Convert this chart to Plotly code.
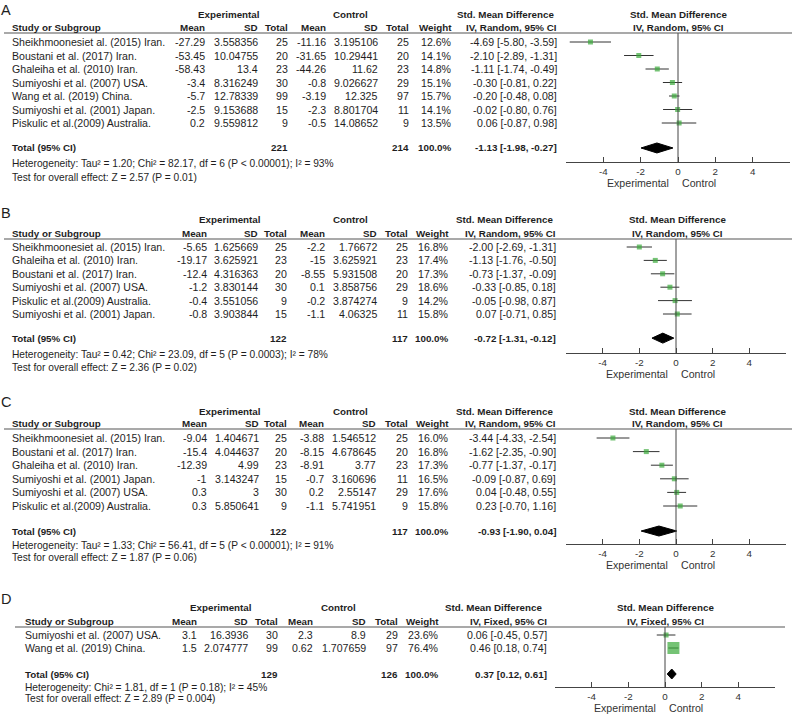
import plotly.graph_objects as go

W, H = 800, 715
FONT = "Liberation Sans, Arial, sans-serif"
TXT = "#1e1e1e"
LINE = "#444444"
GREEN = "#3aa93a"
REG = 10.6
BLD = 9.8
FOOT = 10.2

# ---------------- data ----------------
A_studies = ["Sheikhmoonesiet al. (2015) Iran.", "Boustani et al. (2017) Iran.", "Ghaleiha et al. (2010) Iran.",
             "Sumiyoshi et al. (2007) USA.", "Wang et al. (2019) China.", "Sumiyoshi et al. (2001) Japan.",
             "Piskulic et al.(2009) Australia."]
A_exp_mean = ["-27.29", "-53.45", "-58.43", "-3.4", "-5.7", "-2.5", "0.2"]
A_exp_sd = ["3.558356", "10.04755", "13.4", "8.316249", "12.78339", "9.153688", "9.559812"]
A_exp_n = [25, 20, 23, 30, 99, 15, 9]
A_ctl_mean = ["-11.16", "-31.65", "-44.26", "-0.8", "-3.19", "-2.3", "-0.5"]
A_ctl_sd = ["3.195106", "10.29441", "11.62", "9.026627", "12.325", "8.801704", "14.08652"]
A_ctl_n = [25, 20, 23, 29, 97, 11, 9]
A_weight = [12.6, 14.1, 14.8, 15.1, 15.7, 14.1, 13.5]
A_smd = [-4.69, -2.10, -1.11, -0.30, -0.20, -0.02, 0.06]
A_lo = [-5.80, -2.89, -1.74, -0.81, -0.48, -0.80, -0.87]
A_hi = [-3.59, -1.31, -0.49, 0.22, 0.08, 0.76, 0.98]
A_total = (-1.13, -1.98, -0.27)
A_het = "Heterogeneity: Tau² = 1.20; Chi² = 82.17, df = 6 (P < 0.00001); I² = 93%"
A_test = "Test for overall effect: Z = 2.57 (P = 0.01)"

B_studies = ["Sheikhmoonesiet al. (2015) Iran.", "Ghaleiha et al. (2010) Iran.", "Boustani et al. (2017) Iran.",
             "Sumiyoshi et al. (2007) USA.", "Piskulic et al.(2009) Australia.", "Sumiyoshi et al. (2001) Japan."]
B_exp_mean = ["-5.65", "-19.17", "-12.4", "-1.2", "-0.4", "-0.8"]
B_exp_sd = ["1.625669", "3.625921", "4.316363", "3.830144", "3.551056", "3.903844"]
B_exp_n = [25, 23, 20, 30, 9, 15]
B_ctl_mean = ["-2.2", "-15", "-8.55", "0.1", "-0.2", "-1.1"]
B_ctl_sd = ["1.76672", "3.625921", "5.931508", "3.858756", "3.874274", "4.06325"]
B_ctl_n = [25, 23, 20, 29, 9, 11]
B_weight = [16.8, 17.4, 17.3, 18.6, 14.2, 15.8]
B_smd = [-2.00, -1.13, -0.73, -0.33, -0.05, 0.07]
B_lo = [-2.69, -1.76, -1.37, -0.85, -0.98, -0.71]
B_hi = [-1.31, -0.50, -0.09, 0.18, 0.87, 0.85]
B_total = (-0.72, -1.31, -0.12)
B_het = "Heterogeneity: Tau² = 0.42; Chi² = 23.09, df = 5 (P = 0.0003); I² = 78%"
B_test = "Test for overall effect: Z = 2.36 (P = 0.02)"

C_studies = ["Sheikhmoonesiet al. (2015) Iran.", "Boustani et al. (2017) Iran.", "Ghaleiha et al. (2010) Iran.",
             "Sumiyoshi et al. (2001) Japan.", "Sumiyoshi et al. (2007) USA.", "Piskulic et al.(2009) Australia."]
C_exp_mean = ["-9.04", "-15.4", "-12.39", "-1", "0.3", "0.3"]
C_exp_sd = ["1.404671", "4.044637", "4.99", "3.143247", "3", "5.850641"]
C_exp_n = [25, 20, 23, 15, 30, 9]
C_ctl_mean = ["-3.88", "-8.15", "-8.91", "-0.7", "0.2", "-1.1"]
C_ctl_sd = ["1.546512", "4.678645", "3.77", "3.160696", "2.55147", "5.741951"]
C_ctl_n = [25, 20, 23, 11, 29, 9]
C_weight = [16.0, 16.8, 17.3, 16.5, 17.6, 15.8]
C_smd = [-3.44, -1.62, -0.77, -0.09, 0.04, 0.23]
C_lo = [-4.33, -2.35, -1.37, -0.87, -0.48, -0.70]
C_hi = [-2.54, -0.90, -0.17, 0.69, 0.55, 1.16]
C_total = (-0.93, -1.90, 0.04)
C_het = "Heterogeneity: Tau² = 1.33; Chi² = 56.41, df = 5 (P < 0.00001); I² = 91%"
C_test = "Test for overall effect: Z = 1.87 (P = 0.06)"

D_studies = ["Sumiyoshi et al. (2007) USA.", "Wang et al. (2019) China."]
D_exp_mean = ["3.1", "1.5"]
D_exp_sd = ["16.3936", "2.074777"]
D_exp_n = [30, 99]
D_ctl_mean = ["2.3", "0.62"]
D_ctl_sd = ["8.9", "1.707659"]
D_ctl_n = [29, 97]
D_weight = [23.6, 76.4]
D_smd = [0.06, 0.46]
D_lo = [-0.45, 0.18]
D_hi = [0.57, 0.74]
D_total = (0.37, 0.12, 0.61)
D_het = "Heterogeneity: Chi² = 1.81, df = 1 (P = 0.18); I² = 45%"
D_test = "Test for overall effect: Z = 2.89 (P = 0.004)"

TOTAL_WEIGHT = "100.0%"
TICKS = [-4, -2, 0, 2, 4]
TICK_LABELS = ["-4", "-2", "0", "2", "4"]

# ---------------- layout geometry (pixels) ----------------
panels = [
    dict(letter="A", method="Random", studies=A_studies, em=A_exp_mean, esd=A_exp_sd, en=A_exp_n,
         cm=A_ctl_mean, csd=A_ctl_sd, cn=A_ctl_n, w=A_weight, smd=A_smd, lo=A_lo, hi=A_hi,
         tot=A_total, het=A_het, test=A_test,
         g=dict(lab=10, h1=15, h2=28, line=33, row0=42, sp=13.5, toff=1.85, het=163, test=178,
                axis=162, expl=183, xl=12, cols=[205, 258, 288, 326, 378, 409, 452, 557],
                expc=229, ctlc=350, smdc=505, plotc=678, lx=[4, 792], xd=[566, 790])),
    dict(letter="B", method="Random", studies=B_studies, em=B_exp_mean, esd=B_exp_sd, en=B_exp_n,
         cm=B_ctl_mean, csd=B_ctl_sd, cn=B_ctl_n, w=B_weight, smd=B_smd, lo=B_lo, hi=B_hi,
         tot=B_total, het=B_het, test=B_test,
         g=dict(lab=213, h1=219, h2=233, line=239, row0=247, sp=13.4, toff=1.8, het=355, test=367,
                axis=353, expl=374, xl=12, cols=[207, 258, 287, 325, 377, 408, 449, 556],
                expc=230, ctlc=350, smdc=504, plotc=677, lx=[4, 792], xd=[566, 786])),
    dict(letter="C", method="Random", studies=C_studies, em=C_exp_mean, esd=C_exp_sd, en=C_exp_n,
         cm=C_ctl_mean, csd=C_ctl_sd, cn=C_ctl_n, w=C_weight, smd=C_smd, lo=C_lo, hi=C_hi,
         tot=C_total, het=C_het, test=C_test,
         g=dict(lab=402, h1=411, h2=423, line=429, row0=438, sp=13.6, toff=1.84, het=545, test=557,
                axis=544, expl=565, xl=12, cols=[207, 259, 287, 324, 376, 408, 449, 556],
                expc=230, ctlc=350, smdc=504, plotc=677, lx=[4, 792], xd=[566, 786])),
    dict(letter="D", method="Fixed", studies=D_studies, em=D_exp_mean, esd=D_exp_sd, en=D_exp_n,
         cm=D_ctl_mean, csd=D_ctl_sd, cn=D_ctl_n, w=D_weight, smd=D_smd, lo=D_lo, hi=D_hi,
         tot=D_total, het=D_het, test=D_test,
         g=dict(lab=599, h1=607, h2=621, line=627, row0=635, sp=13.0, toff=2.0, het=687, test=698,
                axis=687, expl=708, xl=25, cols=[197, 248, 278, 313, 366, 398, 439, 547],
                expc=221, ctlc=338, smdc=493, plotc=665, lx=[15, 785], xd=[555, 775])),
]


def ann(x_px, y, text, anchor="left", bold=False, size=None, yref="paper", color=TXT):
    yv = 1 - y / H if yref == "paper" else y
    return dict(x=x_px / W, xref="paper", y=yv, yref=yref,
                text=f"<b>{text}</b>" if bold else text,
                xanchor=anchor, yanchor="middle", showarrow=False, borderpad=0, borderwidth=0,
                font=dict(family=FONT, size=size or (BLD if bold else REG), color=color))


fig = go.Figure()
annotations = []
shapes = []
layout_axes = {}

for k, p in enumerate(panels, start=1):
    g = p["g"]
    xa = "x" if k == 1 else f"x{k}"
    ya = "y" if k == 1 else f"y{k}"
    xname = "xaxis" if k == 1 else f"xaxis{k}"
    yname = "yaxis" if k == 1 else f"yaxis{k}"
    n = len(p["studies"])
    rows = list(range(n))
    trow = n - 1 + g["toff"]

    # axes
    layout_axes[xname] = dict(domain=[g["xd"][0] / W, g["xd"][1] / W], range=[-6, 6], anchor=ya,
                              showline=True, linecolor=LINE, linewidth=1, ticks="inside", ticklen=5,
                              tickcolor=LINE, tickwidth=1, tickvals=TICKS, ticktext=TICK_LABELS,
                              tickfont=dict(family=FONT, size=9.8, color="#333"),
                              showgrid=False, zeroline=False, fixedrange=True)
    top_idx = (g["line"] - g["row0"]) / g["sp"]
    bot_idx = (g["axis"] - g["row0"]) / g["sp"]
    layout_axes[yname] = dict(domain=[1 - g["axis"] / H, 1 - g["line"] / H], range=[bot_idx, top_idx],
                              anchor=xa, visible=False, fixedrange=True)

    # study markers + CI
    sizes = [max(5.0, 12 * wt / 76.4) for wt in p["w"]]
    fig.add_trace(go.Scatter(
        x=p["smd"], y=rows, xaxis=xa, yaxis=ya, mode="markers",
        marker=dict(symbol="square", color=GREEN, size=sizes, line=dict(width=0)),
        error_x=dict(type="data", symmetric=False,
                     array=[h - m for h, m in zip(p["hi"], p["smd"])],
                     arrayminus=[m - l for m, l in zip(p["smd"], p["lo"])],
                     width=0, thickness=1, color="#333"),
        showlegend=False, hoverinfo="skip", cliponaxis=False))

    # pooled diamond
    est, tlo, thi = p["tot"]
    hh = 5 / g["sp"]
    fig.add_trace(go.Scatter(
        x=[tlo, est, thi, est, tlo], y=[trow, trow - hh, trow, trow + hh, trow],
        xaxis=xa, yaxis=ya, mode="lines", fill="toself", fillcolor="black",
        line=dict(color="black", width=1), showlegend=False, hoverinfo="skip"))

    # zero line
    shapes.append(dict(type="line", xref=xa, yref=f"{ya} domain", x0=0, x1=0, y0=0, y1=1,
                       line=dict(color=LINE, width=1)))
    # header line
    shapes.append(dict(type="line", xref="paper", yref="paper", x0=g["lx"][0] / W, x1=g["lx"][1] / W,
                       y0=1 - g["line"] / H, y1=1 - g["line"] / H, line=dict(color="#555", width=1.2)))

    # panel letter
    annotations.append(ann(1, g["lab"], p["letter"], size=14.5))
    # headers
    annotations.append(ann(g["expc"], g["h1"], "Experimental", "center", True))
    annotations.append(ann(g["ctlc"], g["h1"], "Control", "center", True))
    annotations.append(ann(g["smdc"], g["h1"], "Std. Mean Difference", "center", True))
    annotations.append(ann(g["plotc"], g["h1"], "Std. Mean Difference", "center", True))
    annotations.append(ann(g["xl"], g["h2"], "Study or Subgroup", "left", True))
    hdr = ["Mean", "SD", "Total", "Mean", "SD", "Total", "Weight", f"IV, {p['method']}, 95% CI"]
    for cx, t in zip(g["cols"], hdr):
        annotations.append(ann(cx, g["h2"], t, "right", True))
    annotations.append(ann(g["plotc"], g["h2"], f"IV, {p['method']}, 95% CI", "center", True))

    # study rows
    for i in rows:
        vals = [p["em"][i], p["esd"][i], str(p["en"][i]), p["cm"][i], p["csd"][i], str(p["cn"][i]),
                f"{p['w'][i]:.1f}%", f"{p['smd'][i]:.2f} [{p['lo'][i]:.2f}, {p['hi'][i]:.2f}]"]
        annotations.append(ann(g["xl"], i, p["studies"][i], "left", yref=ya))
        for cx, t in zip(g["cols"], vals):
            annotations.append(ann(cx, i, t, "right", yref=ya))

    # total row
    annotations.append(ann(g["xl"], trow, "Total (95% CI)", "left", True, yref=ya))
    annotations.append(ann(g["cols"][2], trow, str(sum(p["en"])), "right", True, yref=ya))
    annotations.append(ann(g["cols"][5], trow, str(sum(p["cn"])), "right", True, yref=ya))
    annotations.append(ann(g["cols"][6], trow, TOTAL_WEIGHT, "right", True, yref=ya))
    annotations.append(ann(g["cols"][7], trow, f"{est:.2f} [{tlo:.2f}, {thi:.2f}]", "right", True, yref=ya))

    # footers
    annotations.append(ann(g["xl"], g["het"], p["het"], "left", size=FOOT))
    annotations.append(ann(g["xl"], g["test"], p["test"], "left", size=FOOT))

    # favours labels
    unit = (g["xd"][1] - g["xd"][0]) / 12
    annotations.append(ann(g["plotc"] - 0.5 * unit, g["expl"], "Experimental", "right", color="#333"))
    annotations.append(ann(g["plotc"] + 0.2 * unit, g["expl"], "Control", "left", color="#333"))

fig.update_layout(width=W, height=H, margin=dict(l=0, r=0, t=0, b=0),
                  paper_bgcolor="white", plot_bgcolor="rgba(0,0,0,0)",
                  annotations=annotations, shapes=shapes, showlegend=False, **layout_axes)

fig.write_html("out.html", config={"displayModeBar": False},
               post_script="document.body.style.margin='0px';")
